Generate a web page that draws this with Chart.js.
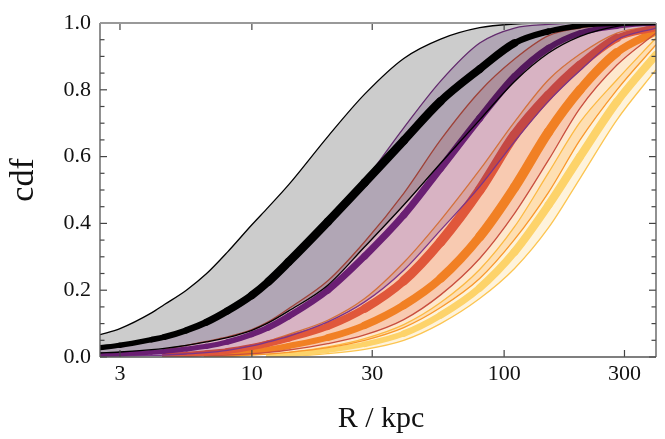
<!DOCTYPE html>
<html>
<head>
<meta charset="utf-8">
<script src="https://cdn.jsdelivr.net/npm/chart.js@4.4.1/dist/chart.umd.min.js"></script>
<style>
  body { margin: 0; background: #fff; }
</style>
</head>
<body>
<canvas id="cdfChart" width="665" height="439"></canvas>
<script>
// radius grid (kpc) shared by every curve
const radius = [2.5, 3, 4, 4.5, 5.5, 6.6, 8, 10, 11.6, 14, 20, 28, 40, 56, 80, 110, 150, 200, 280, 400];

const blackUpper   = [0.067, 0.085, 0.132, 0.157, 0.20, 0.249, 0.314, 0.396, 0.448, 0.516, 0.66, 0.787, 0.894, 0.952, 0.986, 0.997, 1, 1, 1, 1];
const blackMedian  = [0.028, 0.035, 0.052, 0.06, 0.08, 0.104, 0.138, 0.185, 0.225, 0.285, 0.405, 0.522, 0.648, 0.766, 0.862, 0.94, 0.975, 0.992, 0.998, 1];
const blackLower   = [0.012, 0.015, 0.022, 0.026, 0.035, 0.045, 0.058, 0.08, 0.102, 0.138, 0.215, 0.33, 0.455, 0.58, 0.71, 0.825, 0.91, 0.96, 0.99, 1];

const purpleUpper  = [0.026, 0.033, 0.05, 0.058, 0.077, 0.099, 0.133, 0.178, 0.217, 0.277, 0.394, 0.528, 0.686, 0.826, 0.94, 0.985, 0.996, 1, 1, 1];
const purpleMedian = [0.007, 0.009, 0.014, 0.017, 0.024, 0.032, 0.045, 0.068, 0.088, 0.122, 0.20, 0.302, 0.425, 0.565, 0.715, 0.84, 0.925, 0.97, 0.99, 1];
const purpleLower  = [0.002, 0.003, 0.005, 0.006, 0.009, 0.013, 0.02, 0.033, 0.045, 0.062, 0.105, 0.165, 0.26, 0.38, 0.51, 0.645, 0.766, 0.858, 0.95, 0.985];

const redUpper     = [null, null, null, 0.024, 0.035, 0.047, 0.06, 0.082, 0.105, 0.145, 0.228, 0.345, 0.49, 0.65, 0.795, 0.892, 0.962, 0.985, 0.996, 1];
const redMedian    = [null, null, null, 0.005, 0.008, 0.012, 0.018, 0.03, 0.04, 0.056, 0.092, 0.145, 0.228, 0.345, 0.50, 0.665, 0.784, 0.874, 0.955, 0.985];
const redLower     = [null, null, null, 0.001, 0.002, 0.004, 0.006, 0.01, 0.014, 0.021, 0.04, 0.066, 0.112, 0.186, 0.295, 0.43, 0.59, 0.745, 0.874, 0.97];

const orangeUpper  = [null, null, null, null, null, 0.012, 0.02, 0.035, 0.048, 0.068, 0.11, 0.175, 0.283, 0.41, 0.56, 0.704, 0.83, 0.907, 0.97, 0.992];
const orangeMedian = [null, null, null, null, null, 0.003, 0.007, 0.015, 0.022, 0.033, 0.058, 0.095, 0.155, 0.235, 0.36, 0.508, 0.674, 0.80, 0.912, 0.975];
const orangeLower  = [null, null, null, null, null, 0.001, 0.003, 0.006, 0.009, 0.014, 0.028, 0.05, 0.088, 0.148, 0.235, 0.352, 0.493, 0.65, 0.80, 0.935];

const yellowUpper  = [null, null, null, null, null, null, null, null, 0.005, 0.012, 0.03, 0.055, 0.097, 0.163, 0.262, 0.39, 0.552, 0.703, 0.83, 0.955];
const yellowMedian = [null, null, null, null, null, null, null, null, 0.002, 0.006, 0.02, 0.038, 0.07, 0.125, 0.207, 0.315, 0.455, 0.60, 0.764, 0.905];
const yellowLower  = [null, null, null, null, null, null, null, null, 0, 0.002, 0.01, 0.023, 0.05, 0.1, 0.175, 0.265, 0.387, 0.535, 0.71, 0.86];

const xTicks = [3, 10, 30, 100, 300];
const yMajorTicks = [0, 0.2, 0.4, 0.6, 0.8, 1.0];
const yMinorTicks = [0.05, 0.1, 0.15, 0.25, 0.3, 0.35, 0.45, 0.5, 0.55, 0.65, 0.7, 0.75, 0.85, 0.9, 0.95];

const FONT = "'Liberation Serif', 'DejaVu Serif', serif";

// thick median curves get wider where they are steep, like the original bands
const steepWidth = (base, extra) => ctx => {
  const dx = ctx.p1.x - ctx.p0.x, dy = ctx.p1.y - ctx.p0.y;
  const len = Math.hypot(dx, dy) || 1;
  return base + extra * Math.abs(dy) / len;
};

const makeLine = (values, color, width, fillTarget, fillColor) => ({
  data: radius.map((r, i) => ({ x: r, y: values[i] })),
  borderColor: color,
  borderWidth: typeof width === 'number' ? width : 6,
  segment: typeof width === 'number' ? undefined : { borderWidth: width },
  backgroundColor: fillColor || 'transparent',
  fill: fillTarget === undefined ? false : fillTarget,
  pointRadius: 0,
  cubicInterpolationMode: 'monotone',
  borderJoinStyle: 'round',
  borderCapStyle: typeof width === 'number' ? 'butt' : 'round',
  clip: 0
});

// each group: median, upper, lower (lower fills to upper)
const datasets = [
  makeLine(blackMedian, '#000000', steepWidth(4.5, 5.5)),
  makeLine(blackUpper, '#000000', 1.3),
  makeLine(blackLower, '#000000', 1.3, 1, 'rgba(0,0,0,0.2)'),

  makeLine(purpleMedian, '#6a1f73', steepWidth(4.5, 3.5)),
  makeLine(purpleUpper, '#7b3589', 1.3),
  makeLine(purpleLower, '#7b3589', 1.3, 4, 'rgba(87,16,110,0.2)'),

  makeLine(redMedian, '#e0573a', steepWidth(5, 6)),
  makeLine(redUpper, '#e2643c', 1.3),
  makeLine(redLower, '#c94f3e', 1.3, 7, 'rgba(221,81,58,0.2)'),

  makeLine(orangeMedian, '#f78c1e', steepWidth(5, 5.5)),
  makeLine(orangeUpper, '#f9982c', 1.3),
  makeLine(orangeLower, '#f9982c', 1.3, 10, 'rgba(249,142,9,0.2)'),

  makeLine(yellowMedian, '#fdd36a', steepWidth(4.5, 4.5)),
  makeLine(yellowUpper, '#fcc551', 1.3),
  makeLine(yellowLower, '#fcc551', 1.3, 13, 'rgba(250,195,80,0.2)')
];

// frame, inward ticks and axis titles
const frameAndTicks = {
  id: 'frameAndTicks',
  afterDraw(chart) {
    const { ctx, chartArea: a, scales: { x, y } } = chart;
    const seg = (x1, y1, x2, y2) => { ctx.beginPath(); ctx.moveTo(x1, y1); ctx.lineTo(x2, y2); ctx.stroke(); };
    ctx.save();
    ctx.strokeStyle = '#444';
    ctx.lineWidth = 1.2;
    yMajorTicks.forEach(v => {
      const py = y.getPixelForValue(v);
      seg(a.left, py, a.left + 7, py);
      seg(a.right, py, a.right - 7, py);
    });
    yMinorTicks.forEach(v => {
      const py = y.getPixelForValue(v);
      seg(a.left, py, a.left + 4.5, py);
      seg(a.right, py, a.right - 4.5, py);
    });
    xTicks.forEach(v => {
      const px = x.getPixelForValue(v);
      seg(px, a.bottom, px, a.bottom - 7);
      seg(px, a.top, px, a.top + 7);
    });
    // frame
    ctx.strokeStyle = '#555';
    ctx.lineWidth = 1.3;
    seg(a.left, a.top, a.left, a.bottom);
    seg(a.left, a.bottom, a.right, a.bottom);
    seg(a.right, a.bottom, a.right, a.top);
    ctx.strokeStyle = '#999';
    ctx.lineWidth = 1.8;
    seg(a.left, a.top, a.right, a.top);

    // axis titles
    ctx.fillStyle = '#111';
    ctx.textAlign = 'center';
    ctx.textBaseline = 'alphabetic';
    ctx.font = '30px ' + FONT;
    ctx.fillText('R / kpc', 381, 427);
    ctx.translate(33, 180);
    ctx.rotate(-Math.PI / 2);
    ctx.font = '34px ' + FONT;
    ctx.fillText('cdf', 0, 0);
    ctx.restore();
  }
};

new Chart(document.getElementById('cdfChart').getContext('2d'), {
  type: 'line',
  data: { datasets },
  plugins: [frameAndTicks],
  options: {
    responsive: false,
    animation: false,
    events: [],
    layout: { padding: { top: 23, right: 9, left: 0, bottom: 0 } },
    plugins: {
      legend: { display: false },
      tooltip: { enabled: false }
    },
    scales: {
      x: {
        type: 'logarithmic',
        min: 2.5,
        max: 400,
        afterBuildTicks: s => { s.ticks = xTicks.map(v => ({ value: v })); },
        afterFit: s => { s.height = 82; },
        grid: { display: false, drawTicks: false },
        border: { display: false },
        ticks: {
          autoSkip: false,
          maxRotation: 0,
          padding: 4,
          color: '#111',
          font: { family: FONT, size: 22 },
          callback: v => String(v)
        }
      },
      y: {
        type: 'linear',
        min: 0,
        max: 1,
        afterFit: s => { s.width = 100; },
        grid: { display: false, drawTicks: false },
        border: { display: false },
        ticks: {
          stepSize: 0.2,
          padding: 9,
          color: '#111',
          font: { family: FONT, size: 22 },
          callback: v => v.toFixed(1)
        }
      }
    }
  }
});
</script>
</body>
</html>
